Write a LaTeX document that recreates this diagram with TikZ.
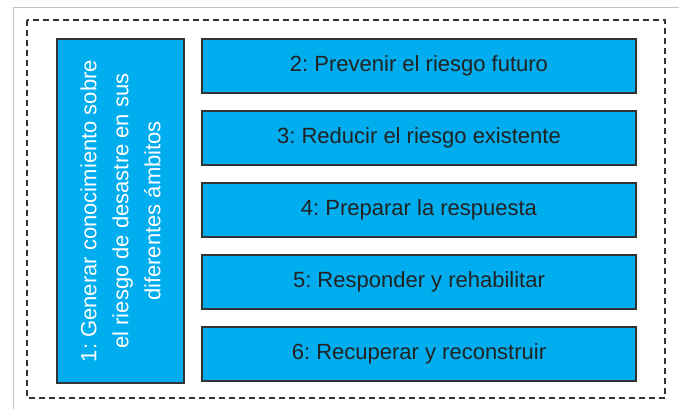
\documentclass[tikz,border=0pt]{standalone}
\usepackage{fontspec}
\setmainfont{Liberation Sans}
\frenchspacing
\definecolor{riskblue}{HTML}{00AEEF}
\definecolor{edgegray}{HTML}{333333}
\definecolor{textgray}{HTML}{222222}
\definecolor{framegray}{HTML}{C4C4C4}
\begin{document}
\begin{tikzpicture}[x=1pt,y=-1pt,
  stage/.style={draw=edgegray,line width=2pt,fill=riskblue,inner sep=0pt,
    text=textgray,font=\fontsize{22}{26}\selectfont},
  mainstage/.style={stage,text=white,rotate=90,align=center,
    font=\fontsize{22}{32}\selectfont}]
\useasboundingbox (0,0) rectangle (679,409);
% screenshot edge
\draw[framegray,line width=1pt] (679,8) -- (13,8) -- (13,409);
% dashed frame
\draw[edgegray,line width=1.8pt,dash pattern=on 6pt off 4pt] (27,20) rectangle (665,398);
\node[mainstage,minimum width=344pt,minimum height=127pt] (s1) at (120.5,211)
  {1: Generar conocimiento sobre\\el riesgo de desastre en sus\\diferentes ámbitos};
\foreach \i/\txt in {2/Prevenir el riesgo futuro,3/Reducir el riesgo existente,
  4/Preparar la respuesta,5/Responder y rehabilitar,6/Recuperar y reconstruir}
  \node[stage,minimum width=434pt,minimum height=54pt] (s\i) at (419,{66+72*(\i-2)}) {\i: \txt};
\end{tikzpicture}
\end{document}
